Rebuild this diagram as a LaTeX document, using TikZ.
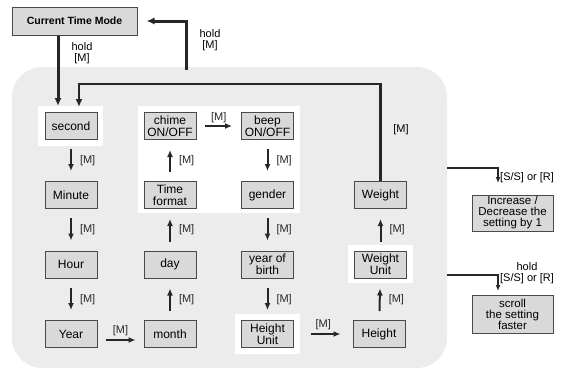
\documentclass[tikz,border=0pt]{standalone}
\usepackage{fontspec}
\setmainfont{Liberation Sans}
\usetikzlibrary{arrows.meta}
\definecolor{boxfill}{HTML}{D9D9D9}
\definecolor{boxline}{HTML}{4A4A4A}
\definecolor{bgfill}{HTML}{ECECEC}
\begin{document}
\begin{tikzpicture}[x=1pt,y=-1pt,
    box/.style={draw=boxline,fill=boxfill,line width=1pt,minimum width=52pt,
      minimum height=27pt,inner sep=0pt,align=center,
      font=\fontsize{12}{12}\selectfont},
    lbl/.style={font=\fontsize{11}{11}\selectfont,align=center,inner sep=1pt},
    steparrow/.style={-{Latex[length=7pt,width=6pt]},line width=2pt,black!85},
    thinarrow/.style={-{Latex[length=6pt,width=5pt]},line width=1.2pt,black!85},
    looparrow/.style={-{Latex[length=8pt,width=7pt]},line width=2.6pt,black!85}]
\useasboundingbox (0,0) rectangle (563,370);
% background and highlights
\fill[bgfill,rounded corners=30pt] (12,67) rectangle (447,368);
\fill[white] (38,106) rectangle (103,146);
\fill[white] (138,106) rectangle (300,213);
\fill[white] (235,314) rectangle (300,354);
\fill[white] (348,245) rectangle (413,283);
% boxes
\node[box,minimum width=125pt,minimum height=28pt,font=\bfseries\fontsize{10.5}{10.5}\selectfont] (ctm) at (74.5,21) {Current Time Mode};
\node[box] (sec) at (71,126) {second};
\node[box] (min) at (71,195) {Minute};
\node[box] (hour) at (71,264.5) {Hour};
\node[box] (year) at (71,334) {Year};
\node[box] (chime) at (170,126) {chime\\ON/OFF};
\node[box] (tfmt) at (170,195) {Time\\format};
\node[box] (day) at (170,264.5) {day};
\node[box] (month) at (170,334) {month};
\node[box] (beep) at (267.5,126) {beep\\ON/OFF};
\node[box] (gender) at (267.5,195) {gender};
\node[box] (yob) at (267.5,264.5) {year of\\birth};
\node[box] (hunit) at (267.5,334) {Height\\Unit};
\node[box] (weight) at (380.5,195) {Weight};
\node[box] (wunit) at (380.5,264.5) {Weight\\Unit};
\node[box] (height) at (379,334) {Height};
\node[box,minimum width=81pt,minimum height=36pt,font=\fontsize{11.5}{11}\selectfont] (inc) at (512.5,213) {Increase /\\Decrease the\\setting by 1};
\node[box,minimum width=81pt,minimum height=38pt,font=\fontsize{11.5}{11}\selectfont] (scroll) at (512.5,314) {scroll\\the setting\\faster};
% vertical steps
\foreach \a/\b in {sec/min,min/hour,hour/year,month/day,day/tfmt,tfmt/chime,beep/gender,gender/yob,yob/hunit,height/wunit,wunit/weight}
  \draw[steparrow,shorten <=9pt,shorten >=10pt] (\a) -- (\b)
    node[lbl,midway,right=7pt] {[M]};
% horizontal steps
\draw[steparrow,shorten <=8pt,shorten >=8pt] ([yshift=-6pt]year.east) -- ([yshift=-6pt]month.west)
  node[lbl,midway,above=2pt] {[M]};
\draw[steparrow,shorten <=8pt,shorten >=9pt] (chime) -- (beep)
  node[lbl,midway,above=1pt] {[M]};
\draw[steparrow,shorten <=17pt,shorten >=12pt] (hunit) -- (height)
  node[lbl,midway,above=2pt] {[M]};
% enter and leave
\coordinate (s1) at (58,106);
\draw[looparrow,line width=3pt] (ctm.south -| s1) -- (s1);
\node[lbl] (h1) at (82,53) {hold\\{[M]}};
\coordinate (r0) at (186,70);
\draw[looparrow,line width=3pt,shorten >=9pt] (r0) |- (ctm.east);
\node[lbl] (h2) at (210,40) {hold\\{[M]}};
% loop back to second
\coordinate (l1) at (79,107);
\draw[looparrow] (weight.north) -- (weight.north |- 0,84) -| (l1);
\node[lbl] (m1) at (401,130) {[M]};
% buttons
\coordinate (a1) at (447,168);
\coordinate (a2) at (498,183);
\draw[thinarrow] (a1) -| (a2);
\node[lbl,anchor=west] (b1) at (499,178) {[S/S] or [R]};
\coordinate (a3) at (447,275);
\coordinate (a4) at (498,291);
\draw[thinarrow] (a3) -| (a4);
\node[lbl] (b2) at (527,273) {hold\\{[S/S] or [R]}};
\end{tikzpicture}
\end{document}
